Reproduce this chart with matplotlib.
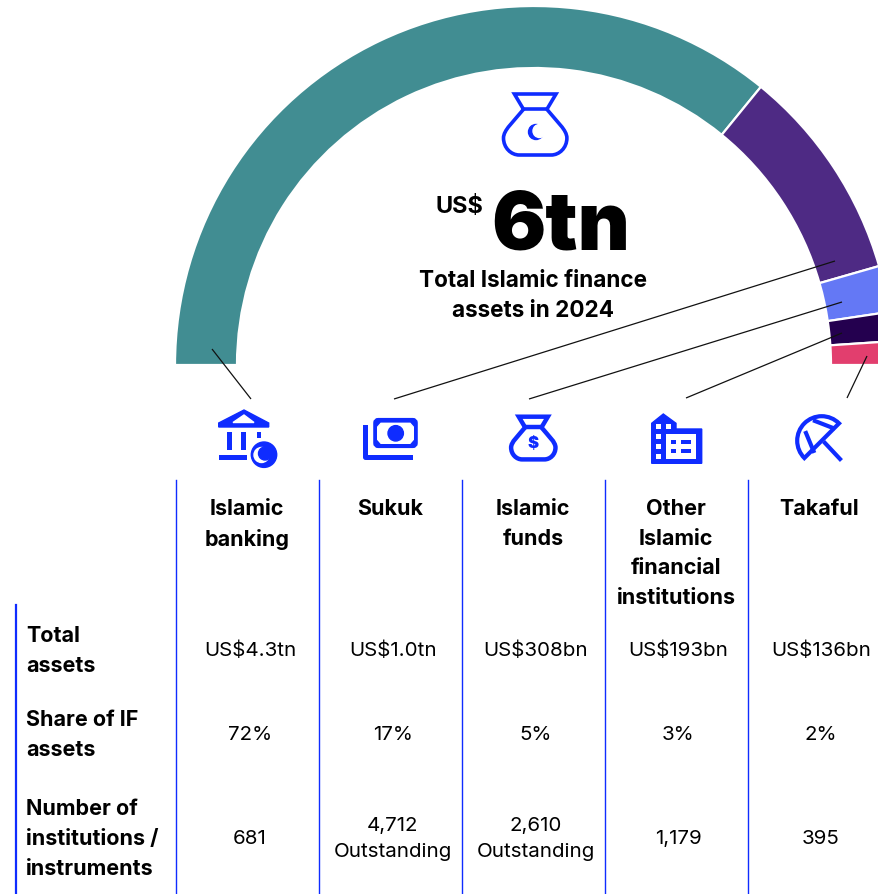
import matplotlib
matplotlib.use("Agg")
from matplotlib import pyplot as plt
from matplotlib.patches import Wedge, Circle, Polygon, Rectangle, FancyBboxPatch, PathPatch
from matplotlib.path import Path

plt.rcParams['font.family'] = ['Inter', 'DejaVu Sans']

# Table contents
categories = ["Islamic\nbanking", "Sukuk", "Islamic\nfunds", "Other\nIslamic\nfinancial\ninstitutions", "Takaful"]
total_assets = ["US$4.3tn", "US$1.0tn", "US$308bn", "US$193bn", "US$136bn"]
shares = ["72%", "17%", "5%", "3%", "2%"]
counts = ["681", "4,712\nOutstanding", "2,610\nOutstanding", "1,179", "395"]
row_labels = ["Total\nassets", "Share of IF\nassets", "Number of\ninstitutions /\ninstruments"]

# Arc spans in degrees
arc_spans = [129.2, 34.8, 7.5, 4.7, 3.8]
arc_colors = ["#418D92", "#4E2A84", "#6478F5", "#24004F", "#E23E6E"]

BLUE = "#0F2CFF"

fig = plt.figure(figsize=(8.79, 8.94), dpi=100)
ax = fig.add_axes([0, 0, 1, 1])
ax.set_xlim(0, 879)
ax.set_ylim(894, 0)
ax.axis('off')

# Half ring, y axis is flipped so angles are negative going up
cx, cy = 534, 365
r_out, r_in = 359, 297
start = 180.0
for span, col in zip(arc_spans, arc_colors):
    ax.add_patch(Wedge((cx, cy), r_out, -start, -(start - span), width=r_out - r_in,
                       facecolor=col, edgecolor='white', linewidth=1.6, zorder=2))
    start -= span

# Leader lines
leaders = [((212, 349), (251, 399)), ((835, 261), (394, 399)), ((842, 302), (529, 399)),
           ((842, 333), (686, 398)), ((867, 356), (847, 398))]
for a, b in leaders:
    ax.plot([a[0], b[0]], [a[1], b[1]], color='#111111', lw=0.9, zorder=3, solid_capstyle='butt')


def bag(x, y, s, lw):
    verts = [(-20.8, 0), (20.8, 0), (11.7, 15.3),
             (22, 28), (31.7, 36), (31.7, 44),
             (31.7, 54), (24, 61), (16, 61),
             (-16, 61),
             (-24, 61), (-31.7, 54), (-31.7, 44),
             (-31.7, 36), (-22, 28), (-11.7, 15.3),
             (-20.8, 0), (-20.8, 0)]
    codes = [Path.MOVETO, Path.LINETO, Path.LINETO,
             Path.CURVE4, Path.CURVE4, Path.CURVE4,
             Path.CURVE4, Path.CURVE4, Path.CURVE4,
             Path.LINETO,
             Path.CURVE4, Path.CURVE4, Path.CURVE4,
             Path.CURVE4, Path.CURVE4, Path.CURVE4,
             Path.LINETO, Path.CLOSEPOLY]
    p = Path([(x + vx * s, y + vy * s) for vx, vy in verts], codes)
    ax.add_patch(PathPatch(p, facecolor='white', edgecolor=BLUE, lw=lw, joinstyle='miter', zorder=4))
    ax.plot([x - 11.7 * s, x + 11.7 * s], [y + 15.3 * s, y + 15.3 * s], color=BLUE, lw=lw, zorder=4)


def rect(x0, y0, x1, y1, col=BLUE, z=5):
    ax.add_patch(Rectangle((x0, y0), x1 - x0, y1 - y0, facecolor=col, edgecolor='none', zorder=z))


# Top bag
bag(535.2, 94, 1.0, 2.6)
ax.add_patch(Circle((536, 132), 7.5, color=BLUE, zorder=6))
ax.add_patch(Circle((539.5, 131), 6.5, color='white', zorder=7))

# Bank icon
ax.add_patch(Polygon([(244, 410), (268.7, 423), (268.7, 427), (218.7, 427), (218.7, 423)], color=BLUE, zorder=5))
ax.add_patch(Polygon([(244, 415), (254, 422.5), (233, 422.5)], color='white', zorder=6))
rect(226.7, 432, 231.7, 450)
rect(240.7, 432, 246, 450)
rect(256.7, 432, 261, 438)
rect(218.7, 455, 246.7, 460)
ax.add_patch(Circle((264, 454.7), 12.7, color=BLUE, zorder=6))
ax.add_patch(Circle((261.5, 455), 7.5, color='white', zorder=7))
ax.add_patch(Circle((265, 453.5), 6.5, color=BLUE, zorder=8))

# Money icon
ax.add_patch(FancyBboxPatch((375.3, 420), 40.4, 26, boxstyle="round,pad=0,rounding_size=3", facecolor=BLUE,
                            edgecolor=BLUE, lw=3, zorder=5))
ax.add_patch(Polygon([(381, 423.3), (410, 423.3), (413.3, 427), (413.3, 439.5), (410, 443.3), (381, 443.3),
                      (377.7, 439.5), (377.7, 427)], color='white', zorder=6))
ax.add_patch(Circle((395.7, 433.3), 7.7, color=BLUE, zorder=7))
ax.plot([365, 365, 410], [426.7, 456.7, 456.7], color=BLUE, lw=3.6, solid_joinstyle='round', zorder=5)

# Small bag with dollar
bag(533.3, 416.7, 0.70, 3.2)
ax.text(533, 444, "$", fontsize=12, fontweight='black', color=BLUE, ha='center', va='center', zorder=6)

# Building icon
ax.add_patch(Polygon([(651.7, 423.3), (663.3, 414), (676, 423.3), (676, 429), (701.7, 429), (701.7, 463.3),
                      (651.7, 463.3)], color=BLUE, zorder=5))
for wy in [423.5, 433.5, 443.5, 453.5]:
    rect(656.5, wy, 661.5, wy + 5.5, 'white', 6)
rect(666.5, 423.5, 671.5, 429, 'white', 6)
rect(666.5, 433.5, 696.5, 458.5, 'white', 6)
for wy in [439.5, 449]:
    rect(671.5, wy, 676.5, wy + 4, BLUE, 7)
    rect(681.5, wy, 691.5, wy + 4, BLUE, 7)

# Umbrella icon
ax.add_patch(Wedge((821.7, 440.7), 24.5, 135, 315, facecolor='none', edgecolor=BLUE, lw=3, zorder=5))
ax.plot([806, 813.5], [433, 451], color=BLUE, lw=3, zorder=5)
ax.plot([815, 833], [421, 428], color=BLUE, lw=3, zorder=5)
ax.plot([825, 840], [443, 459], color=BLUE, lw=3, zorder=5)

# Centre text
ax.text(436, 207, "US$", fontsize=17, fontweight='bold', color='black', ha='left', va='center')
ax.text(491, 229, "6tn", fontsize=58, fontweight='black', color='black', ha='left', va='center')
ax.text(533, 296, "Total Islamic finance\nassets in 2024", fontsize=16.2, fontweight='bold', color='black',
        ha='center', va='center', linespacing=1.5)

# Table
col_lines = [176, 319, 462, 605, 748]
col_centers = [247, 390, 533, 676, 819]
value_centers = [250, 393, 536, 678, 821]
for x in col_lines:
    ax.plot([x, x], [480, 894], color=BLUE, lw=1.0, zorder=1)
ax.plot([16, 16], [605, 894], color=BLUE, lw=1.6, zorder=1)

for xc, lab in zip(col_centers, categories):
    ax.text(xc, 499, lab, fontsize=15.5, fontweight='bold', color='black', ha='center', va='top', linespacing=1.6)

row_y = [651, 735, 839]
for y, lab in zip(row_y, row_labels):
    ax.text(26, y, lab, fontsize=15.5, fontweight='bold', color='black', ha='left', va='center', linespacing=1.6)

for xc, a, b, c in zip(value_centers, total_assets, shares, counts):
    ax.text(xc, row_y[0], a, fontsize=14.8, color='black', ha='center', va='center')
    ax.text(xc, row_y[1], b, fontsize=14.8, color='black', ha='center', va='center')
    ax.text(xc, row_y[2], c, fontsize=14.8, color='black', ha='center', va='center', linespacing=1.6)

fig.savefig("out.png", dpi=100, facecolor='white')
